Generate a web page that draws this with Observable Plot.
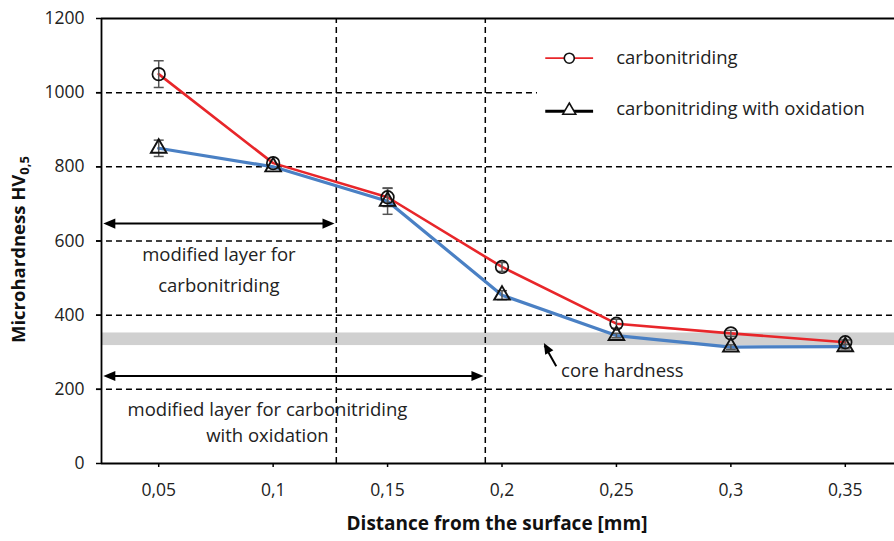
<!DOCTYPE html>
<html>
<head>
<meta charset="utf-8">
<script src="https://cdn.jsdelivr.net/npm/d3@7"></script>
<script src="https://cdn.jsdelivr.net/npm/@observablehq/plot@0.6"></script>
<style>
  html, body { margin: 0; padding: 0; background: #fff; }
  #chart { width: 894px; height: 541px; }
</style>
</head>
<body>
<div id="chart"></div>
<script>
// ---- data ----
const distance = [0.05, 0.1, 0.15, 0.2, 0.25, 0.3, 0.35];
const carbonitriding = [1050, 810, 718, 530, 377, 351, 327];
const carbonitridingErr = [36, 0, 25, 12, 12, 8, 6];
const oxidation = [850, 800, 707, 454, 345, 314, 315];
const oxidationErr = [22, 0, 35, 12, 6, 6, 6];
const yTicks = [0, 200, 400, 600, 800, 1000, 1200];
const gridY = [200, 400, 600, 800, 1000];
const coreBand = {lo: 318, hi: 352};
const layerCarbo = 0.1276;
const layerOxid = 0.1927;
const seriesNames = ["carbonitriding", "carbonitriding with oxidation"];

const fmt = d => String(d).replace(".", ",");

const carboData = distance.map((x, i) => ({x, y: carbonitriding[i], e: carbonitridingErr[i]}));
const oxidData = distance.map((x, i) => ({x, y: oxidation[i], e: oxidationErr[i]}));
const errData = [...carboData, ...oxidData].filter(d => d.e > 0);

// custom symbols
const headRight = {draw(ctx, size) { const r = Math.sqrt(size / Math.PI); ctx.moveTo(0, 0); ctx.lineTo(-2 * r, -0.85 * r); ctx.lineTo(-2 * r, 0.85 * r); ctx.closePath(); }};
const headLeft = {draw(ctx, size) { const r = Math.sqrt(size / Math.PI); ctx.moveTo(0, 0); ctx.lineTo(2 * r, -0.85 * r); ctx.lineTo(2 * r, 0.85 * r); ctx.closePath(); }};
const capSym = {draw(ctx, size) { const r = Math.sqrt(size / Math.PI); ctx.moveTo(-r, 0); ctx.lineTo(r, 0); }};
const ang = Math.atan2(-23.7, -13.3);
const headDiag = {draw(ctx, size) {
  const r = Math.sqrt(size / Math.PI);
  const c = Math.cos(ang), s = Math.sin(ang);
  const bx = -2 * r, h = 0.85 * r;
  const pts = [[0, 0], [bx, -h], [bx, h]].map(([px, py]) => [px * c - py * s, px * s + py * c]);
  ctx.moveTo(pts[0][0], pts[0][1]); ctx.lineTo(pts[1][0], pts[1][1]); ctx.lineTo(pts[2][0], pts[2][1]); ctx.closePath();
}};

const xmin = 0.025, xmax = 0.3715;
const FS = 18.5;

const plot = Plot.plot({
  width: 894,
  height: 541,
  marginTop: 18,
  marginBottom: 78,
  marginLeft: 101,
  marginRight: 0,
  style: {fontFamily: "Open Sans", fontSize: "16px", color: "#222", background: "#fff"},
  x: {domain: [xmin, xmax], label: null},
  y: {domain: [0, 1200], label: null},
  marks: [
    // core hardness band
    Plot.rect([coreBand], {x1: xmin, x2: xmax, y1: "lo", y2: "hi", fill: "#d0d0d0"}),
    // dashed gridlines
    Plot.ruleY(gridY, {x1: xmin - 0.0022, x2: xmax, stroke: "#000", strokeWidth: 1.5, strokeDasharray: "6,4"}),
    // legend white box hiding gridline
    Plot.rect([0], {x1: 0.2155, x2: xmax, y1: 965, y2: 1130, fill: "#fff"}),
    // vertical dashed lines
    Plot.ruleX([layerCarbo, layerOxid], {y1: 0, y2: 1200, stroke: "#000", strokeWidth: 1.5, strokeDasharray: "6,4"}),
    // frame
    Plot.ruleY([0, 1200], {x1: xmin, x2: xmax, stroke: "#000", strokeWidth: 1.8}),
    Plot.ruleX([xmin], {y1: 0, y2: 1200, stroke: "#000", strokeWidth: 1.8}),
    // axes
    Plot.axisY(yTicks, {tickSize: 5, tickPadding: 12, fontSize: 17.5, label: null, stroke: "#000", strokeWidth: 1.5, tickFormat: d => String(d)}),
    Plot.axisX(distance, {tickSize: 4, tickPadding: 16, fontSize: 17.5, label: null, tickFormat: fmt, stroke: "#000", strokeWidth: 1.5}),
    // layer arrows
    Plot.link([{x1: xmin + 0.005, x2: layerCarbo - 0.005, y: 647}], {x1: "x1", x2: "x2", y1: "y", y2: "y", stroke: "#000", strokeWidth: 2}),
    Plot.dot([{x: xmin + 0.0008, y: 647}], {x: "x", y: "y", symbol: headLeft, r: 6, fill: "#000", stroke: "none"}),
    Plot.dot([{x: layerCarbo - 0.0008, y: 647}], {x: "x", y: "y", symbol: headRight, r: 6, fill: "#000", stroke: "none"}),
    Plot.link([{x1: xmin + 0.005, x2: layerOxid - 0.005, y: 236}], {x1: "x1", x2: "x2", y1: "y", y2: "y", stroke: "#000", strokeWidth: 2}),
    Plot.dot([{x: xmin + 0.0008, y: 236}], {x: "x", y: "y", symbol: headLeft, r: 6, fill: "#000", stroke: "none"}),
    Plot.dot([{x: layerOxid - 0.0008, y: 236}], {x: "x", y: "y", symbol: headRight, r: 6, fill: "#000", stroke: "none"}),
    Plot.text(["modified layer for", "carbonitriding"], {x: 0.0763, y: (d, i) => 561 - i * 83, text: d => d, fontSize: FS, fill: "#222"}),
    Plot.text(["modified layer for carbonitriding", "with oxidation"], {x: 0.0975, y: (d, i) => 145 - i * 71, text: d => d, fontSize: FS, fill: "#222"}),
    // core hardness arrow
    Plot.link([{x1: 0.2237, y1: 262, x2: 0.2186, y2: 318}], {x1: "x1", y1: "y1", x2: "x2", y2: "y2", stroke: "#000", strokeWidth: 2}),
    Plot.dot([{x: 0.2183, y: 325}], {x: "x", y: "y", symbol: headDiag, r: 5.5, fill: "#000", stroke: "none"}),
    Plot.text(["core hardness"], {x: 0.2258, y: 250, text: d => d, textAnchor: "start", fontSize: FS, fill: "#222"}),
    // series lines
    Plot.line(oxidData, {x: "x", y: "y", stroke: "#4a80c4", strokeWidth: 3.2}),
    Plot.line(carboData, {x: "x", y: "y", stroke: "#e8262a", strokeWidth: 2.6}),
    // error bars
    Plot.link(errData, {x1: "x", x2: "x", y1: d => d.y - d.e, y2: d => d.y + d.e, stroke: "#555", strokeWidth: 1.5}),
    Plot.dot(errData, {x: "x", y: d => d.y - d.e, symbol: capSym, r: 5, stroke: "#555", strokeWidth: 1.5, fill: "none"}),
    Plot.dot(errData, {x: "x", y: d => d.y + d.e, symbol: capSym, r: 5, stroke: "#555", strokeWidth: 1.5, fill: "none"}),
    // markers
    Plot.dot(carboData, {x: "x", y: "y", symbol: "circle", r: 6.3, stroke: "#111", strokeWidth: 1.7, fill: "none"}),
    Plot.dot(oxidData, {x: "x", y: "y", symbol: "triangle", r: 5.8, stroke: "#111", strokeWidth: 1.9, fill: "none"}),
    // legend
    Plot.link([{x1: 0.2189, x2: 0.2398, y: 1093}], {x1: "x1", x2: "x2", y1: "y", y2: "y", stroke: "#e8262a", strokeWidth: 1.8}),
    Plot.dot([{x: 0.2294, y: 1093}], {x: "x", y: "y", symbol: "circle", r: 5, stroke: "#111", strokeWidth: 1.6, fill: "#fff"}),
    Plot.link([{x1: 0.2189, x2: 0.2398, y: 950}], {x1: "x1", x2: "x2", y1: "y", y2: "y", stroke: "#000", strokeWidth: 3}),
    Plot.dot([{x: 0.2294, y: 952}], {x: "x", y: "y", symbol: "triangle", r: 4.8, stroke: "#111", strokeWidth: 1.6, fill: "#fff"}),
    Plot.text(seriesNames, {x: 0.2499, y: (d, i) => i === 0 ? 1093 : 955, text: d => d, textAnchor: "start", fontSize: FS, fill: "#222"})
  ]
});

const svg = d3.select(plot);
svg.append("text")
  .attr("x", 497).attr("y", 530)
  .attr("text-anchor", "middle")
  .attr("font-family", "Open Sans").attr("font-weight", "bold").attr("font-size", 19).attr("fill", "#111")
  .text("Distance from the surface [mm]");
const yl = svg.append("text")
  .attr("transform", "translate(25,343) rotate(-90)")
  .attr("text-anchor", "start")
  .attr("font-family", "Open Sans").attr("font-weight", "bold").attr("font-size", 18.5).attr("fill", "#111");
yl.append("tspan").text("Microhardness HV");
yl.append("tspan").attr("font-size", 13).attr("dy", 4).text("0,5");

document.getElementById("chart").appendChild(plot);
</script>
</body>
</html>
